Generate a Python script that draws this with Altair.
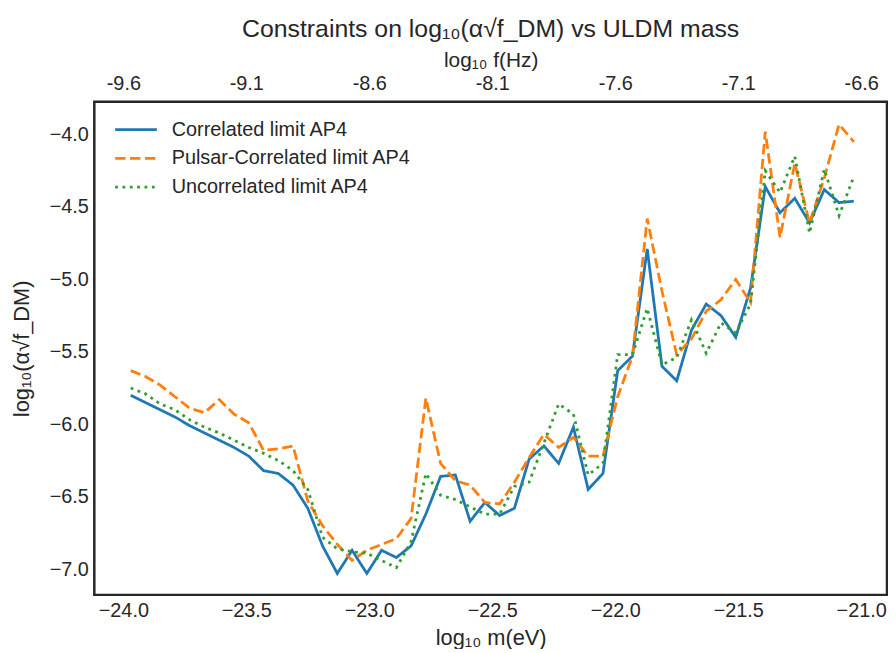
import altair as alt
import pandas as pd

# log10 m (eV) sample points
m_ev = [-23.97, -23.91, -23.85, -23.79, -23.73, -23.67, -23.61, -23.55, -23.49, -23.43,
        -23.37, -23.31, -23.25, -23.19, -23.13, -23.07, -23.01, -22.95, -22.89, -22.83,
        -22.77, -22.71, -22.65, -22.59, -22.53, -22.47, -22.41, -22.35, -22.29, -22.23,
        -22.17, -22.11, -22.05, -21.99, -21.93, -21.87, -21.81, -21.75, -21.69, -21.63,
        -21.57, -21.51, -21.45, -21.39, -21.33, -21.27, -21.21, -21.15, -21.09, -21.03]

correlated = [-5.80, -5.85, -5.90, -5.95, -6.01, -6.06, -6.11, -6.16, -6.22, -6.32,
              -6.34, -6.42, -6.58, -6.84, -7.03, -6.87, -7.03, -6.87, -6.92, -6.84,
              -6.62, -6.36, -6.35, -6.67, -6.54, -6.63, -6.58, -6.24, -6.15, -6.27,
              -6.02, -6.45, -6.34, -5.63, -5.53, -4.79, -5.60, -5.70, -5.35, -5.17,
              -5.25, -5.40, -5.06, -4.36, -4.54, -4.44, -4.61, -4.38, -4.47, -4.46]

pulsar = [-5.63, -5.67, -5.73, -5.81, -5.89, -5.92, -5.83, -5.93, -5.99, -6.18,
          -6.17, -6.15, -6.53, -6.70, -6.83, -6.94, -6.87, -6.83, -6.79, -6.65,
          -5.82, -6.27, -6.39, -6.42, -6.54, -6.55, -6.40, -6.23, -6.07, -6.16,
          -6.09, -6.22, -6.22, -5.81, -5.53, -4.58, -5.08, -5.52, -5.41, -5.22,
          -5.14, -5.00, -5.16, -3.98, -4.71, -4.20, -4.61, -4.30, -3.93, -4.05]

uncorrelated = [-5.75, -5.79, -5.86, -5.90, -5.97, -6.02, -6.06, -6.11, -6.16, -6.20,
                -6.25, -6.32, -6.45, -6.78, -6.86, -6.88, -6.89, -6.94, -6.99, -6.81,
                -6.34, -6.49, -6.52, -6.57, -6.62, -6.62, -6.43, -6.40, -6.13, -5.86,
                -5.93, -6.35, -6.27, -5.52, -5.52, -5.20, -5.59, -5.54, -5.28, -5.51,
                -5.30, -5.37, -5.17, -4.25, -4.40, -4.15, -4.68, -4.24, -4.56, -4.29]

series_names = ["Correlated limit AP4", "Pulsar-Correlated limit AP4", "Uncorrelated limit AP4"]
series_colors = ["#1f77b4", "#ff7f0e", "#2ca02c"]
series_dash = [[1, 0], [10.5, 4.5], [2.8, 4.6]]

x_ticks = [-24.0, -23.5, -23.0, -22.5, -22.0, -21.5, -21.0]
x_labels = ["\u221224.0", "\u221223.5", "\u221223.0", "\u221222.5", "\u221222.0", "\u221221.5", "\u221221.0"]
top_labels = ["-9.6", "-9.1", "-8.6", "-8.1", "-7.6", "-7.1", "-6.6"]
y_ticks = [-4.0, -4.5, -5.0, -5.5, -6.0, -6.5, -7.0]
y_labels = ["\u22124.0", "\u22124.5", "\u22125.0", "\u22125.5", "\u22126.0", "\u22126.5", "\u22127.0"]

title_text = "Constraints on log\u2081\u2080(\u03b1\u221af_DM) vs ULDM mass"
y_title = "log\u2081\u2080(\u03b1\u221af_DM)"
x_title = "log\u2081\u2080 m(eV)"
top_title = "log\u2081\u2080 f(Hz)"

rows = []
for name, vals in zip(series_names, [correlated, pulsar, uncorrelated]):
    for m, v in zip(m_ev, vals):
        rows.append({"m": m, "v": v, "series": name})
df = pd.DataFrame(rows)


def label_expr(ticks, labels):
    arr = "[" + ",".join("'" + s + "'" for s in labels) + "]"
    vals = "[" + ",".join(str(t) for t in ticks) + "]"
    return arr + "[indexof(" + vals + ", datum.value)]"


FONT = "Liberation Sans"
TXT = "#262626"
FS = 20

x_scale = alt.Scale(domain=[-24.118, -20.895], nice=False, zero=False)
y_scale = alt.Scale(domain=[-7.178, -3.774], nice=False, zero=False)

common_axis = dict(domain=False, ticks=False, grid=False, labelFont=FONT, titleFont=FONT,
                   labelColor=TXT, titleColor=TXT, labelFontSize=FS,
                   titleFontWeight="normal")

bottom_axis = alt.Axis(orient="bottom", values=x_ticks, labelExpr=label_expr(x_ticks, x_labels),
                       title=x_title, titleFontSize=22, labelPadding=6, titlePadding=7, **common_axis)
top_axis = alt.Axis(orient="top", values=x_ticks, labelExpr=label_expr(x_ticks, top_labels),
                    title=top_title, titleFontSize=21, labelPadding=8, titlePadding=4, **common_axis)
left_axis = alt.Axis(orient="left", values=y_ticks, labelExpr=label_expr(y_ticks, y_labels),
                     title=y_title, titleFontSize=22, labelPadding=6, titlePadding=16, **common_axis)

legend = alt.Legend(title=None, orient="none", legendX=32, legendY=18,
                    symbolType="M-3,0H3", symbolSize=196, symbolStrokeWidth=2.8,
                    labelFont=FONT, labelFontSize=FS, labelColor=TXT, labelOffset=26,
                    labelLimit=0, rowPadding=9, padding=0)

lines = alt.Chart(df).mark_line(strokeWidth=2.8, strokeCap="butt").encode(
    x=alt.X("m:Q", scale=x_scale, axis=bottom_axis),
    y=alt.Y("v:Q", scale=y_scale, axis=left_axis),
    color=alt.Color("series:N", scale=alt.Scale(domain=series_names, range=series_colors), legend=legend),
    strokeDash=alt.StrokeDash("series:N", scale=alt.Scale(domain=series_names, range=series_dash), legend=legend),
    order=alt.Order("m:Q"),
)

top = alt.Chart(df).mark_line(strokeOpacity=0).encode(
    x=alt.X("m:Q", scale=x_scale, axis=top_axis),
    y=alt.Y("v:Q", scale=y_scale, axis=left_axis),
    detail="series:N",
)

chart = alt.layer(lines, top).resolve_axis(x="independent").properties(
    width=799, height=497,
    background="white",
    title=alt.TitleParams(text=title_text, font=FONT, fontSize=25, color=TXT,
                          fontWeight="normal", anchor="middle", offset=7),
    autosize=alt.AutoSizeParams(type="none"),
    padding={"left": 87, "top": 92, "right": 1, "bottom": 52},
).configure_view(stroke=TXT, strokeWidth=2.5)

chart.save("out.html", embed_options={"renderer": "svg", "actions": False})
